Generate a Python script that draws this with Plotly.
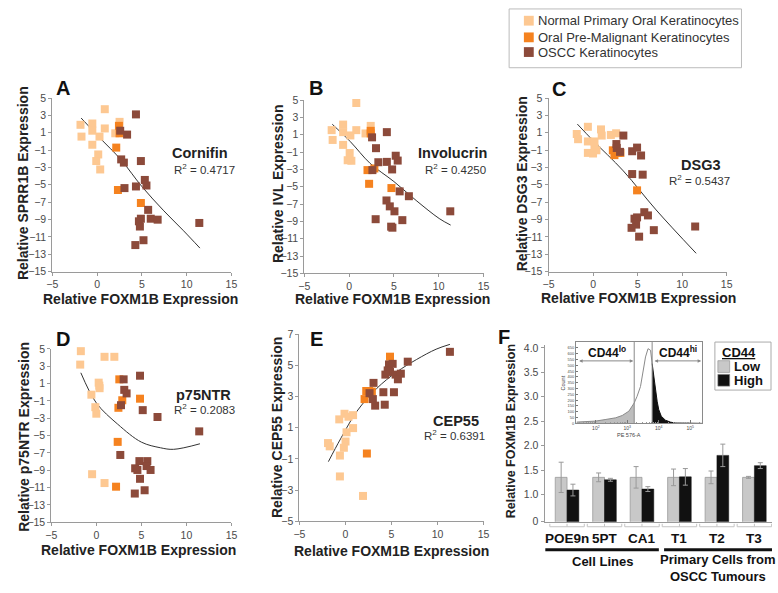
import math
import plotly.graph_objects as go

W, H = 778, 593
FONT = "Liberation Sans, Arial, sans-serif"

# ---------------- data ----------------
GROUPS = ["Normal Primary Oral Keratinocytes", "Oral Pre-Malignant Keratinocytes", "OSCC Keratinocytes"]
GROUP_COLORS = ["#FDC892", "#F5821F", "#8C4A3A"]

A_NORM_X = [-1.85, -1.74, -0.53, -0.53, 0.86, 0.86, 0.27, 2.03, 2.51, -0.53, 0.13, -0.09, 0.35]
A_NORM_Y = [1.92, 0.56, 2.07, 1.24, 3.72, 1.50, 0.56, 0.94, 2.26, -0.38, -1.50, -2.26, -3.23]
A_PRE_X = [2.44, 2.51, 2.14, 2.33, 4.89]
A_PRE_Y = [1.80, 0.94, -0.71, -5.60, -7.10]
A_SCC_X = [4.34, 2.58, 3.35, 2.69, 2.99, 4.89, 3.06, 4.34, 5.33, 5.51, 5.70, 4.89, 4.67, 4.78, 5.99, 6.76, 5.18, 4.27, 11.41]
A_SCC_Y = [3.12, 1.24, 0.79, -2.07, -2.44, -2.26, -5.38, -5.19, -4.44, -5.08, -7.89, -8.91, -9.21, -9.81, -8.91, -9.02, -11.39, -11.95, -9.40]
A_TREND_X = [-1.78, 0.27, 2.69, 5.0, 7.45, 9.65, 11.48]
A_TREND_Y = [2.7, 0.45, -2.14, -5.2, -8.0, -10.3, -12.3]

B_NORM_X = [0.80, -1.95, -1.84, -0.67, -0.67, 0.14, 0.80, 1.83, 2.41, -0.67, 0.06, -0.16, 0.25]
B_NORM_Y = [4.66, 1.53, 0.40, 2.17, 1.30, 0.92, 1.53, 1.15, 2.02, -0.17, -1.11, -1.94, -2.00]
B_PRE_X = [2.41, 2.41, 2.05, 2.82, 2.23, 4.72]
B_PRE_Y = [1.45, 1.15, -3.08, -2.89, -4.66, -5.15]
B_SCC_X = [2.56, 4.21, 3.00, 3.26, 2.60, 4.21, 5.20, 5.42, 4.80, 5.64, 6.67, 4.17, 4.54, 5.06, 11.29, 2.96, 5.94, 4.69, 4.83]
B_SCC_Y = [0.70, 1.30, -0.55, -2.17, -3.08, -2.13, -1.42, -1.98, -3.00, -5.53, -6.09, -6.58, -7.26, -7.83, -7.83, -8.74, -8.85, -9.60, -9.72]
B_TREND_X = [-1.88, 0.14, 2.34, 5.0, 7.48, 10.05, 11.33]
B_TREND_Y = [2.21, 0.2, -2.3, -4.4, -6.58, -8.66, -9.42]

C_NORM_X = [-1.83, -1.68, -0.58, -0.58, -0.58, 0.00, 0.16, 0.16, 0.38, 0.89, 0.97, 2.00, 2.59]
C_NORM_Y = [0.86, 0.26, 1.69, 0.00, -1.32, -1.39, 0.00, -0.75, -1.02, 1.39, 0.68, 0.75, 0.94]
C_PRE_X = [2.22, 2.40, 2.85, 3.07, 4.94]
C_PRE_Y = [-1.02, -1.58, -1.32, -1.32, -5.64]
C_SCC_X = [3.40, 2.62, 2.66, 3.03, 4.39, 4.94, 5.39, 4.39, 5.57, 5.75, 6.16, 4.65, 4.94, 4.83, 4.32, 5.17, 6.82, 11.46]
C_SCC_Y = [0.68, -0.30, -0.75, -1.20, -1.13, -0.71, -1.62, -3.76, -3.83, -8.16, -8.53, -8.91, -8.76, -9.59, -9.96, -10.98, -10.23, -9.81]
C_TREND_X = [-1.76, 0.0, 3.4, 7.08, 11.57]
C_TREND_Y = [2.0, 0.1, -3.4, -7.9, -12.9]

D_NORM_X = [-1.72, -1.79, 0.91, 2.00, 2.55, 0.26, 0.33, 0.36, -0.55, -0.11, 0.00, -0.47, 0.91]
D_NORM_Y = [4.74, 3.19, 4.09, 4.09, 5.10, 1.11, 0.77, 0.47, -0.28, -1.72, -2.47, -9.45, -10.47]
D_PRE_X = [2.55, 2.88, 2.45, 4.85, 2.37, 2.19]
D_PRE_Y = [1.49, -0.92, -1.79, -0.74, -5.72, -10.89]
D_SCC_X = [3.03, 4.85, 3.10, 3.36, 2.74, 5.15, 6.79, 11.42, 2.66, 4.78, 5.66, 5.58, 6.02, 4.31, 4.56, 4.85, 4.27, 5.36]
D_SCC_Y = [1.49, 1.91, 0.28, -0.13, -1.49, -2.06, -2.85, -4.51, -7.23, -7.94, -7.94, -8.51, -8.96, -8.77, -8.96, -9.98, -11.68, -11.30]
D_TREND_X = [-1.72, 0.0, 2.37, 5.0, 7.12, 8.58, 11.5]
D_TREND_Y = [2.25, -1.23, -3.68, -5.75, -6.4, -6.58, -5.94]

E_NORM_X = [-1.89, -1.71, -0.67, -0.10, 0.33, 0.83, 0.83, 0.12, 0.01, -0.17, -0.60, -0.60, 1.91]
E_NORM_Y = [0.02, -0.19, 1.54, 1.90, 1.71, 1.81, 0.98, 0.71, 0.12, -0.28, -0.78, -2.12, -3.37]
E_PRE_X = [4.84, 2.26, 2.58, 2.87, 2.08, 2.33]
E_PRE_Y = [5.56, 3.36, 3.36, 3.32, 2.84, -0.65]
E_SCC_X = [11.35, 6.77, 4.73, 5.13, 4.59, 4.84, 4.34, 5.45, 6.02, 5.70, 3.05, 2.62, 4.12, 5.27, 2.98, 3.23, 4.27]
E_SCC_Y = [5.87, 5.24, 5.06, 5.10, 4.68, 4.58, 4.41, 4.41, 4.47, 4.11, 3.88, 3.22, 3.28, 3.28, 2.84, 2.42, 2.48]
E_TREND_X = [-1.85, -0.53, 1.26, 3.41, 5.55, 7.7, 9.85, 11.35]
E_TREND_Y = [-1.17, 0.29, 2.07, 3.53, 4.57, 5.37, 6.04, 6.35]

GENES = ["Cornifin", "Involucrin", "DSG3", "p75NTR", "CEP55"]
R2_VALUES = ["0.4717", "0.4250", "0.5437", "0.2083", "0.6391"]
Y_TITLES = ["Relative SPRR1B Expression", "Relative IVL Expression", "Relative DSG3 Expression",
            "Relative p75NTR Expression", "Relative CEP55 Expression"]
X_TITLE = "Relative FOXM1B Expression"
LETTERS = ["A", "B", "C", "D", "E", "F"]

SC_XTICKS = [-5, 0, 5, 10, 15]
SC_YTICKS = [-15, -13, -11, -9, -7, -5, -3, -1, 1, 3, 5]
E_YTICKS = [-5, -3, -1, 1, 3, 5, 7]

F_CATS = ["POE9n", "5PT", "CA1", "T1", "T2", "T3"]
F_LOW = [1.35, 1.35, 1.35, 1.35, 1.35, 1.35]
F_LOW_ERR = [0.31, 0.09, 0.22, 0.17, 0.13, 0.02]
F_HIGH = [1.09, 1.30, 1.11, 1.36, 1.80, 1.59]
F_HIGH_ERR = [0.12, 0.03, 0.05, 0.17, 0.23, 0.06]
F_YTICKVALS = [0.44, 1.0, 1.5, 2.0, 2.5, 3.0, 3.5, 4.0]
F_YTICKTEXT = ["0", "1.0", "1.5", "2.0", "2.5", "3.0", "3.5", "4.0"]
F_SERIES = ["Low", "High"]
F_GROUP_LABELS = ["Cell Lines", "Primary Cells from<br>OSCC Tumours"]
F_GROUP_SPANS = [(-0.58, 2.45), (2.59, 5.49)]

HIST_LOGX = [1.39, 2.0, 2.32, 2.63, 2.84, 3.05, 3.22, 3.31, 3.42, 3.49, 3.58, 3.66, 3.74, 3.79,
             3.84, 3.89, 3.95, 4.0, 4.08, 4.21, 4.37, 4.52, 5.37]
HIST_COUNT = [11, 20, 34, 48, 68, 105, 176, 232, 317, 431, 572, 643, 629, 516,
              402, 289, 190, 119, 62, 28, 11, 3, 0]
GATES = [3.22, 3.79]
HIST_XTICKS = [2, 3, 4, 5]
HIST_YTICKS = [0, 50, 100, 150, 200, 250, 300, 350, 400, 450, 500, 550, 600, 650]

# ---------------- helpers ----------------
AX = "#9a9a9a"
TK = "#4a4a4a"


def px(x):
    return min(max(x / W, 0.0), 1.0)


def py(y):
    return min(max(1 - y / H, 0.0), 1.0)


annotations = []
shapes = []


def text(t, x, y, size, bold=False, angle=0, color="#222", xanchor="center", family=FONT):
    if bold:
        t = "<b>" + t + "</b>"
    annotations.append(dict(text=t, x=px(x), y=py(y), xref="paper", yref="paper",
                            showarrow=False, textangle=angle, xanchor=xanchor, yanchor="middle",
                            font=dict(size=size, color=color, family=family)))


fig = go.Figure()

scatter_panels = [
    ("", (A_NORM_X, A_NORM_Y), (A_PRE_X, A_PRE_Y), (A_SCC_X, A_SCC_Y), (A_TREND_X, A_TREND_Y)),
    ("2", (B_NORM_X, B_NORM_Y), (B_PRE_X, B_PRE_Y), (B_SCC_X, B_SCC_Y), (B_TREND_X, B_TREND_Y)),
    ("3", (C_NORM_X, C_NORM_Y), (C_PRE_X, C_PRE_Y), (C_SCC_X, C_SCC_Y), (C_TREND_X, C_TREND_Y)),
    ("4", (D_NORM_X, D_NORM_Y), (D_PRE_X, D_PRE_Y), (D_SCC_X, D_SCC_Y), (D_TREND_X, D_TREND_Y)),
    ("5", (E_NORM_X, E_NORM_Y), (E_PRE_X, E_PRE_Y), (E_SCC_X, E_SCC_Y), (E_TREND_X, E_TREND_Y)),
]

for sid, norm, pre, scc, trend in scatter_panels:
    xa, ya = "x" + sid, "y" + sid
    fig.add_trace(go.Scatter(x=trend[0], y=trend[1], mode="lines", line=dict(color="#333", width=1, shape="spline"),
                             xaxis=xa, yaxis=ya, showlegend=False, hoverinfo="skip"))
    for (gx, gy), name, col in zip((norm, pre, scc), GROUPS, GROUP_COLORS):
        fig.add_trace(go.Scatter(x=gx, y=gy, mode="markers", name=name,
                                 marker=dict(symbol="square", size=8, color=col, line=dict(width=0)),
                                 xaxis=xa, yaxis=ya, showlegend=False, cliponaxis=False))

# panel layout (pixel boxes: x0, x1, ytop, ybottom)
BOXES = [(47, 229, 94, 271), (303, 485, 96, 273), (551, 732, 94, 271),
         (46, 229, 350, 527), (298, 485, 335, 526)]

layout_axes = {}
for i, (x0, x1, yt, yb) in enumerate(BOXES):
    sid = "" if i == 0 else str(i + 1)
    yticks = E_YTICKS if i == 4 else SC_YTICKS
    layout_axes["xaxis" + sid] = dict(
        domain=[px(x0), px(x1)], anchor="y" + sid, range=[-5, 15], tickvals=SC_XTICKS,
        showline=True, linecolor=AX, linewidth=1, ticks="outside", ticklen=3, tickcolor=AX,
        tickfont=dict(size=10.5, color=TK, family=FONT), showgrid=False, zeroline=False)
    layout_axes["yaxis" + sid] = dict(
        domain=[py(yb), py(yt)], anchor="x" + sid, range=[yticks[0], yticks[-1]], tickvals=yticks,
        showline=True, linecolor=AX, linewidth=1, ticks="outside", ticklen=3, tickcolor=AX,
        tickfont=dict(size=10.5, color=TK, family=FONT), showgrid=False, zeroline=False)

# Panel F bars
F_BOX = (547, 778, 346.5, 526.5)
fig.add_trace(go.Bar(x=F_CATS, y=F_LOW, name=F_SERIES[0], xaxis="x6", yaxis="y6",
                     marker=dict(color="#c8c8c8", line=dict(color="#9a9a9a", width=0.8)),
                     error_y=dict(type="data", array=F_LOW_ERR, color="#999", thickness=1, width=2.5),
                     showlegend=False))
fig.add_trace(go.Bar(x=F_CATS, y=F_HIGH, name=F_SERIES[1], xaxis="x6", yaxis="y6",
                     marker=dict(color="#111111", line=dict(color="#111", width=0.5)),
                     error_y=dict(type="data", array=F_HIGH_ERR, color="#999", thickness=1, width=2.5),
                     showlegend=False))
layout_axes["xaxis6"] = dict(domain=[px(F_BOX[0]), px(F_BOX[1])], anchor="y6", range=[-0.6, 5.47],
                             type="category", showline=True, linecolor=AX, linewidth=1,
                             showticklabels=False, ticks="", showgrid=False, zeroline=False)
layout_axes["yaxis6"] = dict(domain=[py(F_BOX[3]), py(F_BOX[2])], anchor="x6", range=[0.439, 4.05],
                             tickvals=F_YTICKVALS, ticktext=F_YTICKTEXT, showline=True, linecolor=AX,
                             linewidth=1, ticks="outside", ticklen=3, tickcolor=AX,
                             tickfont=dict(size=10.5, color=TK, family=FONT), showgrid=False, zeroline=False)

# category labels, brackets and group lines
for c in F_CATS:
    annotations.append(dict(text="<b>" + c + "</b>", x=c, y=py(543), xref="x6", yref="paper",
                            showarrow=False, yanchor="middle", font=dict(size=13.5, color="#111", family=FONT)))
BR = "#c4c4c4"
for i in range(len(F_CATS)):
    shapes.append(dict(type="line", xref="x6", yref="paper", x0=i - 0.46, x1=i + 0.46,
                       y0=py(531.5), y1=py(531.5), line=dict(color=BR, width=1)))
    for e in (i - 0.46, i, i + 0.46):
        shapes.append(dict(type="line", xref="x6", yref="paper", x0=e, x1=e,
                           y0=py(531.5), y1=py(528.5), line=dict(color=BR, width=1)))
for (g0, g1), lab in zip(F_GROUP_SPANS, F_GROUP_LABELS):
    shapes.append(dict(type="line", xref="x6", yref="paper", x0=g0, x1=g1, y0=py(555), y1=py(555),
                       line=dict(color="#111", width=3)))
    ny = 567 if "<br>" not in lab else 574
    annotations.append(dict(text="<b>" + lab + "</b>", x=(g0 + g1) / 2, y=py(ny), xref="x6", yref="paper",
                            showarrow=False, yanchor="middle", font=dict(size=13, color="#111", family=FONT)))

# Inset histogram
INSET = (579, 707, 343, 426)
seg_lo = [(x, c) for x, c in zip(HIST_LOGX, HIST_COUNT) if x <= GATES[0]]
seg_mid = [(x, c) for x, c in zip(HIST_LOGX, HIST_COUNT) if GATES[0] <= x <= GATES[1]]
seg_hi = [(x, c) for x, c in zip(HIST_LOGX, HIST_COUNT) if x >= GATES[1]]
fig.add_trace(go.Scatter(x=[p[0] for p in seg_lo], y=[p[1] for p in seg_lo], mode="lines", fill="tozeroy",
                         fillcolor="#bdbdbd", line=dict(color="#8a8a8a", width=1), xaxis="x7", yaxis="y7",
                         showlegend=False, hoverinfo="skip"))
fig.add_trace(go.Scatter(x=[p[0] for p in seg_mid], y=[p[1] for p in seg_mid], mode="lines",
                         line=dict(color="#8a8a8a", width=1), xaxis="x7", yaxis="y7",
                         showlegend=False, hoverinfo="skip"))
fig.add_trace(go.Scatter(x=[p[0] for p in seg_hi], y=[p[1] for p in seg_hi], mode="lines", fill="tozeroy",
                         fillcolor="#111", line=dict(color="#111", width=1), xaxis="x7", yaxis="y7",
                         showlegend=False, hoverinfo="skip"))
minor_vals = [d + math.log10(k) for d in range(1, 6) for k in range(2, 10)]
layout_axes["xaxis7"] = dict(domain=[px(INSET[0]), px(INSET[1])], anchor="y7", range=[1.37, 5.38],
                             tickvals=HIST_XTICKS, ticktext=["10<sup>%d</sup>" % v for v in HIST_XTICKS],
                             showline=True, mirror=True, linecolor="#8a8a8a", linewidth=1,
                             ticks="inside", ticklen=3, tickcolor="#777",
                             minor=dict(tickvals=minor_vals, ticks="inside", ticklen=1.5, tickcolor="#999"),
                             tickfont=dict(size=5, color=TK, family=FONT), showgrid=False, zeroline=False)
layout_axes["yaxis7"] = dict(domain=[py(INSET[3]), py(INSET[2])], anchor="x7", range=[0, 700],
                             tickvals=HIST_YTICKS, showline=True, mirror=True, linecolor="#8a8a8a",
                             linewidth=1, ticks="inside", ticklen=2, tickcolor="#777",
                             tickfont=dict(size=4, color=TK, family=FONT), showgrid=False, zeroline=False)
for g in GATES:
    shapes.append(dict(type="line", xref="x7", yref="y7 domain", x0=g, x1=g, y0=0, y1=1,
                       line=dict(color="#8a8a8a", width=1)))
for a0, a1 in ((1.42, GATES[0] - 0.03), (GATES[1] + 0.03, 5.35)):
    annotations.append(dict(text="", x=a1, y=538, ax=a0, ay=538, xref="x7", yref="y7", axref="x7", ayref="y7",
                            showarrow=True, arrowside="end+start", arrowhead=2, arrowsize=0.7,
                            arrowwidth=1, arrowcolor="#888"))
text("CD44<sup>lo</sup>", 610, 353, 12, bold=True, color="#111")
text("CD44<sup>hi</sup>", 683, 353, 12, bold=True, color="#111")
text("PE 576-A", 633, 438, 5.5, color="#444")
text("Count", 566, 385, 5.5, angle=-90, color="#444")

# F legend
shapes.append(dict(type="rect", xref="paper", yref="paper", x0=px(720), x1=px(777), y0=py(392), y1=py(343),
                   line=dict(color="#aaa", width=1), fillcolor="white"))
text("<u>CD44</u>", 725, 354, 13, bold=True, color="#111", xanchor="left")
for (yc, col, lab) in ((368, "#c8c8c8", F_SERIES[0]), (382, "#111", F_SERIES[1])):
    shapes.append(dict(type="rect", xref="paper", yref="paper", x0=px(723), x1=px(735), y0=py(yc + 6),
                       y1=py(yc - 6), line=dict(color="#888", width=0.6), fillcolor=col))
    text(lab, 737, yc, 13, bold=True, color="#111", xanchor="left")

# Main legend
shapes.append(dict(type="rect", xref="paper", yref="paper", x0=px(511), x1=px(747), y0=py(63), y1=py(3),
                   line=dict(color="#bbb", width=1), fillcolor="white"))
for yc, name, col in zip((15, 32, 47), GROUPS, GROUP_COLORS):
    shapes.append(dict(type="rect", xref="paper", yref="paper", x0=px(526), x1=px(536), y0=py(yc + 5),
                       y1=py(yc - 5), line=dict(width=0), fillcolor=col))
    text(name, 538, yc, 13, color="#333", xanchor="left")

# Titles, letters, gene labels
Y_TITLE_POS = [(18, 181), (277, 182), (524, 181), (18, 440), (276, 430)]
X_TITLE_POS = [(137, 299), (393, 299), (642, 298), (135, 555), (392, 556)]
for (xx, yy), t in zip(Y_TITLE_POS, Y_TITLES):
    text(t, xx, yy, 14, bold=True, angle=-90, color="#222")
for (xx, yy) in X_TITLE_POS:
    text(X_TITLE, xx, yy, 14, bold=True, color="#222")
text("Relative FOXM1B Expression", 513, 434, 12.5, bold=True, angle=-90, color="#222")

LETTER_POS = [(58, 84), (315, 84), (562, 85), (58, 340), (315, 340), (506, 338)]
for (xx, yy), t in zip(LETTER_POS, LETTERS):
    text(t, xx, yy, 20, bold=True, color="#111")

GENE_POS = [(197, 150), (453, 150), (706, 162), (201, 397), (457, 424)]
R2_POS = [(202, 166), (457, 166), (704, 178), (202, 411), (456, 438)]
for (gx, gy), (rx, ry), g, r in zip(GENE_POS, R2_POS, GENES, R2_VALUES):
    text(g, gx, gy, 14.5, bold=True, color="#222")
    text("R<sup>2</sup> = " + r, rx, ry, 11.5, color="#333")

fig.update_layout(
    width=W, height=H, margin=dict(l=0, r=0, t=0, b=0),
    paper_bgcolor="white", plot_bgcolor="white", showlegend=False,
    barmode="group", bargap=0.37, bargroupgap=0,
    font=dict(family=FONT), annotations=annotations, shapes=shapes, **layout_axes)

fig.write_html("out.html", config={"displayModeBar": False},
               post_script="document.body.style.margin='0';")
